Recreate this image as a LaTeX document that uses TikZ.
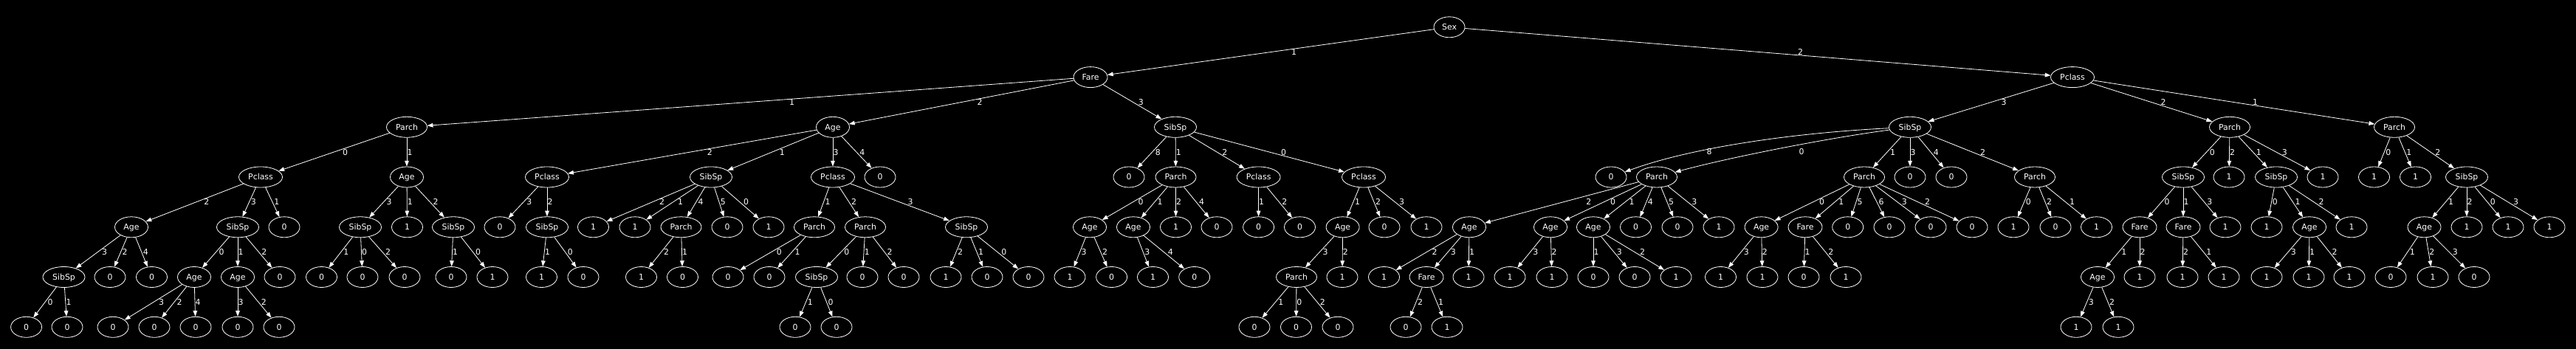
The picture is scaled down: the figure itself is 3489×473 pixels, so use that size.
\documentclass[tikz,border=0pt]{standalone}
\usepackage{fontspec}
\setmainfont{DejaVu Sans}
\usetikzlibrary{shapes.geometric,arrows.meta,calc}
\def\yA{36.8}\def\yB{104.6}\def\yC{172.3}\def\yD{240.0}\def\yE{307.8}\def\yF{375.5}\def\yG{443.3}
\tikzset{
  nBase/.style={ellipse, draw=white, line width=0.8pt, text=white, inner sep=0pt,
    minimum height=28pt, text height=7.9pt, text depth=0pt,
    font=\fontsize{10.9pt}{13pt}\selectfont},
  nLeaf/.style={nBase, minimum width=42pt},
  nSex/.style={nBase, minimum width=42pt},
  nSib/.style={nBase, minimum width=57pt},
  nPar/.style={nBase, minimum width=55pt},
  nPcl/.style={nBase, minimum width=59pt},
  nAge/.style={nBase, minimum width=45pt},
  nFare/.style={nBase, minimum width=46pt},
  edg/.style={draw=white, line width=0.8pt, -{Triangle[length=7.8pt,width=5.6pt]}},
  elab/.style={text=white, inner sep=0pt, text height=7.9pt, text depth=0pt,
    font=\fontsize{10.9pt}{13pt}\selectfont}
}
\newcommand\myE[4][0]{%
  \draw[edg] (#2) -- (#3);
  \path let \p1=(#2), \p2=(#3) in
    node[elab] at ({(\x1+\x2)/2+4pt+abs(\x2-\x1)/17+#1pt},{(\y1+\y2)/2}) {#4};}
\begin{document}
\begin{tikzpicture}[x=1pt,y=-1pt]
\fill[black] (0,0) rectangle (3489,473);
% ---------- nodes ----------
\node[nSex] (sex) at (1963,\yA) {Sex};
\node[nFare] (A) at (1477,\yB) {Fare};
\node[nPcl] (B) at (2807,\yB) {Pclass};
\node[nPar] (a1) at (551,\yC) {Parch};
\node[nAge] (a2) at (1128,\yC) {Age};
\node[nSib] (a3) at (1592,\yC) {SibSp};
% a1
\node[nPcl] (a1a) at (353,\yD) {Pclass};
\node[nAge] (a1b) at (551,\yD) {Age};
\node[nAge] (a1a1) at (178,\yE) {Age};
\node[nSib] (a1a2) at (322,\yE) {SibSp};
\node[nLeaf] (a1a3) at (385,\yE) {0};
\node[nSib] (a1a1a) at (86.5,\yF) {SibSp};
\node[nLeaf] (a1a1b) at (149,\yF) {0};
\node[nLeaf] (a1a1c) at (205.5,\yF) {0};
\node[nLeaf] (a1a1a1) at (35.6,\yG) {0};
\node[nLeaf] (a1a1a2) at (91,\yG) {0};
\node[nAge] (a1a2a) at (263,\yF) {Age};
\node[nAge] (a1a2b) at (322,\yF) {Age};
\node[nLeaf] (a1a2c) at (379,\yF) {0};
\node[nLeaf] (a1a2a1) at (153,\yG) {0};
\node[nLeaf] (a1a2a2) at (209,\yG) {0};
\node[nLeaf] (a1a2a3) at (265,\yG) {0};
\node[nLeaf] (a1a2b1) at (322,\yG) {0};
\node[nLeaf] (a1a2b2) at (378,\yG) {0};
\node[nSib] (a1b1) at (488,\yE) {SibSp};
\node[nLeaf] (a1b2) at (551.5,\yE) {1};
\node[nSib] (a1b3) at (614,\yE) {SibSp};
\node[nLeaf] (a1b1a) at (435.5,\yF) {0};
\node[nLeaf] (a1b1b) at (491,\yF) {0};
\node[nLeaf] (a1b1c) at (548,\yF) {0};
\node[nLeaf] (a1b3a) at (611,\yF) {0};
\node[nLeaf] (a1b3b) at (667,\yF) {1};
% a2
\node[nPcl] (a2a) at (741,\yD) {Pclass};
\node[nSib] (a2b) at (963,\yD) {SibSp};
\node[nPcl] (a2c) at (1128,\yD) {Pclass};
\node[nLeaf] (a2d) at (1192,\yD) {0};
\node[nLeaf] (a2a1) at (677,\yE) {0};
\node[nSib] (a2a2) at (741,\yE) {SibSp};
\node[nLeaf] (a2a2a) at (733.5,\yF) {1};
\node[nLeaf] (a2a2b) at (790,\yF) {0};
\node[nLeaf] (a2b1) at (803.5,\yE) {1};
\node[nLeaf] (a2b2) at (860,\yE) {1};
\node[nPar] (a2b3) at (922.5,\yE) {Parch};
\node[nLeaf] (a2b4) at (985,\yE) {0};
\node[nLeaf] (a2b5) at (1041,\yE) {1};
\node[nLeaf] (a2b3a) at (868.5,\yF) {1};
\node[nLeaf] (a2b3b) at (924.5,\yF) {0};
\node[nPar] (a2c1) at (1103,\yE) {Parch};
\node[nPar] (a2c2) at (1172,\yE) {Parch};
\node[nSib] (a2c3) at (1309,\yE) {SibSp};
\node[nLeaf] (a2c1a) at (986,\yF) {0};
\node[nLeaf] (a2c1b) at (1042,\yF) {0};
\node[nSib] (a2c2a) at (1106,\yF) {SibSp};
\node[nLeaf] (a2c2b) at (1168,\yF) {0};
\node[nLeaf] (a2c2c) at (1224,\yF) {0};
\node[nLeaf] (a2c2a1) at (1077,\yG) {0};
\node[nLeaf] (a2c2a2) at (1133,\yG) {0};
\node[nLeaf] (a2c3a) at (1281,\yF) {1};
\node[nLeaf] (a2c3b) at (1337,\yF) {0};
\node[nLeaf] (a2c3c) at (1393,\yF) {0};
% a3
\node[nLeaf] (a3a) at (1529,\yD) {0};
\node[nPar] (a3b) at (1592.5,\yD) {Parch};
\node[nPcl] (a3c) at (1704.6,\yD) {Pclass};
\node[nPcl] (a3d) at (1847,\yD) {Pclass};
\node[nAge] (a3b1) at (1476,\yE) {Age};
\node[nAge] (a3b2) at (1535,\yE) {Age};
\node[nLeaf] (a3b3) at (1592.5,\yE) {1};
\node[nLeaf] (a3b4) at (1648,\yE) {0};
\node[nLeaf] (a3b1a) at (1449,\yF) {1};
\node[nLeaf] (a3b1b) at (1505.6,\yF) {0};
\node[nLeaf] (a3b2a) at (1561.5,\yF) {1};
\node[nLeaf] (a3b2b) at (1617.7,\yF) {0};
\node[nLeaf] (a3c1) at (1704.6,\yE) {0};
\node[nLeaf] (a3c2) at (1760.5,\yE) {0};
\node[nAge] (a3d1) at (1818.6,\yE) {Age};
\node[nLeaf] (a3d2) at (1875,\yE) {0};
\node[nLeaf] (a3d3) at (1932,\yE) {1};
\node[nPar] (a3d1a) at (1756,\yF) {Parch};
\node[nLeaf] (a3d1b) at (1818,\yF) {1};
\node[nLeaf] (a3d1a1) at (1699,\yG) {0};
\node[nLeaf] (a3d1a2) at (1755.5,\yG) {0};
\node[nLeaf] (a3d1a3) at (1812,\yG) {0};
% B
\node[nSib] (b1) at (2587,\yC) {SibSp};
\node[nPar] (b2) at (3020,\yC) {Parch};
\node[nPar] (b3) at (3243,\yC) {Parch};
\node[nLeaf] (b1a) at (2182,\yD) {0};
\node[nPar] (b1b) at (2244,\yD) {Parch};
\node[nPar] (b1c) at (2525,\yD) {Parch};
\node[nLeaf] (b1d) at (2587,\yD) {0};
\node[nLeaf] (b1e) at (2643,\yD) {0};
\node[nPar] (b1f) at (2756,\yD) {Parch};
\node[nAge] (b1b1) at (1990,\yE) {Age};
\node[nAge] (b1b2) at (2100,\yE) {Age};
\node[nAge] (b1b3) at (2158,\yE) {Age};
\node[nLeaf] (b1b4) at (2215.5,\yE) {0};
\node[nLeaf] (b1b5) at (2272,\yE) {0};
\node[nLeaf] (b1b6) at (2328,\yE) {1};
\node[nLeaf] (b1b1a) at (1874.5,\yF) {1};
\node[nFare] (b1b1b) at (1932,\yF) {Fare};
\node[nLeaf] (b1b1c) at (1989,\yF) {1};
\node[nLeaf] (b1b1b1) at (1904,\yG) {0};
\node[nLeaf] (b1b1b2) at (1960,\yG) {1};
\node[nLeaf] (b1b2a) at (2045,\yF) {1};
\node[nLeaf] (b1b2b) at (2102,\yF) {1};
\node[nLeaf] (b1b3a) at (2158,\yF) {0};
\node[nLeaf] (b1b3b) at (2214,\yF) {0};
\node[nLeaf] (b1b3c) at (2270,\yF) {1};
\node[nAge] (b1c1) at (2385.6,\yE) {Age};
\node[nFare] (b1c2) at (2445,\yE) {Fare};
\node[nLeaf] (b1c3) at (2502.7,\yE) {0};
\node[nLeaf] (b1c4) at (2559,\yE) {0};
\node[nLeaf] (b1c5) at (2615,\yE) {0};
\node[nLeaf] (b1c6) at (2671,\yE) {0};
\node[nLeaf] (b1c1a) at (2330.5,\yF) {1};
\node[nLeaf] (b1c1b) at (2387,\yF) {1};
\node[nLeaf] (b1c2a) at (2443,\yF) {0};
\node[nLeaf] (b1c2b) at (2500,\yF) {1};
\node[nLeaf] (b1f1) at (2727,\yE) {1};
\node[nLeaf] (b1f2) at (2784,\yE) {0};
\node[nLeaf] (b1f3) at (2839.5,\yE) {1};
\node[nSib] (b2a) at (2957,\yD) {SibSp};
\node[nLeaf] (b2b) at (3019,\yD) {1};
\node[nSib] (b2c) at (3083,\yD) {SibSp};
\node[nLeaf] (b2d) at (3146,\yD) {1};
\node[nFare] (b2a1) at (2898,\yE) {Fare};
\node[nFare] (b2a2) at (2957,\yE) {Fare};
\node[nLeaf] (b2a3) at (3014,\yE) {1};
\node[nAge] (b2a1a) at (2841,\yF) {Age};
\node[nLeaf] (b2a1b) at (2898,\yF) {1};
\node[nLeaf] (b2a1a1) at (2812,\yG) {1};
\node[nLeaf] (b2a1a2) at (2869,\yG) {1};
\node[nLeaf] (b2a2a) at (2956,\yF) {1};
\node[nLeaf] (b2a2b) at (3012,\yF) {1};
\node[nLeaf] (b2c1) at (3070,\yE) {1};
\node[nAge] (b2c2) at (3128,\yE) {Age};
\node[nLeaf] (b2c3) at (3185,\yE) {1};
\node[nLeaf] (b2c2a) at (3070,\yF) {1};
\node[nLeaf] (b2c2b) at (3127,\yF) {1};
\node[nLeaf] (b2c2c) at (3182,\yF) {1};
\node[nLeaf] (b3a) at (3215.5,\yD) {1};
\node[nLeaf] (b3b) at (3271.5,\yD) {1};
\node[nSib] (b3c) at (3341,\yD) {SibSp};
\node[nAge] (b3c1) at (3283.5,\yE) {Age};
\node[nLeaf] (b3c2) at (3341,\yE) {1};
\node[nLeaf] (b3c3) at (3397,\yE) {1};
\node[nLeaf] (b3c4) at (3453,\yE) {1};
\node[nLeaf] (b3c1a) at (3238,\yF) {0};
\node[nLeaf] (b3c1b) at (3295,\yF) {1};
\node[nLeaf] (b3c1c) at (3351,\yF) {0};
% ---------- edges ----------
\myE{sex}{A}{1}
\myE{sex}{B}{2}
\myE{A}{a1}{1}
\myE{A}{a2}{2}
\myE{A}{a3}{3}
\myE{a1}{a1a}{0}
\myE{a1}{a1b}{1}
\myE{a1a}{a1a1}{2}
\myE{a1a}{a1a2}{3}
\myE{a1a}{a1a3}{1}
\myE{a1a1}{a1a1a}{3}
\myE{a1a1}{a1a1b}{2}
\myE{a1a1}{a1a1c}{4}
\myE{a1a1a}{a1a1a1}{0}
\myE{a1a1a}{a1a1a2}{1}
\myE{a1a2}{a1a2a}{0}
\myE{a1a2}{a1a2b}{1}
\myE{a1a2}{a1a2c}{2}
\myE{a1a2a}{a1a2a1}{3}
\myE{a1a2a}{a1a2a2}{2}
\myE{a1a2a}{a1a2a3}{4}
\myE{a1a2b}{a1a2b1}{3}
\myE{a1a2b}{a1a2b2}{2}
\myE{a1b}{a1b1}{3}
\myE{a1b}{a1b2}{1}
\myE{a1b}{a1b3}{2}
\myE{a1b1}{a1b1a}{1}
\myE{a1b1}{a1b1b}{0}
\myE{a1b1}{a1b1c}{2}
\myE{a1b3}{a1b3a}{1}
\myE{a1b3}{a1b3b}{0}
\myE{a2}{a2a}{2}
\myE{a2}{a2b}{1}
\myE{a2}{a2c}{3}
\myE{a2}{a2d}{4}
\myE{a2a}{a2a1}{3}
\myE{a2a}{a2a2}{2}
\myE{a2a2}{a2a2a}{1}
\myE{a2a2}{a2a2b}{0}
\myE{a2b}{a2b1}{2}
\myE{a2b}{a2b2}{1}
\myE{a2b}{a2b3}{4}
\myE{a2b}{a2b4}{5}
\myE{a2b}{a2b5}{0}
\myE{a2b3}{a2b3a}{2}
\myE{a2b3}{a2b3b}{1}
\myE{a2c}{a2c1}{1}
\myE{a2c}{a2c2}{2}
\myE{a2c}{a2c3}{3}
\myE{a2c1}{a2c1a}{0}
\myE{a2c1}{a2c1b}{1}
\myE{a2c2}{a2c2a}{0}
\myE{a2c2}{a2c2b}{1}
\myE{a2c2}{a2c2c}{2}
\myE{a2c2a}{a2c2a1}{1}
\myE{a2c2a}{a2c2a2}{0}
\myE{a2c3}{a2c3a}{2}
\myE{a2c3}{a2c3b}{1}
\myE{a2c3}{a2c3c}{0}
\myE{a3}{a3a}{8}
\myE{a3}{a3b}{1}
\myE{a3}{a3c}{2}
\myE{a3}{a3d}{0}
\myE{a3b}{a3b1}{0}
\myE{a3b}{a3b2}{1}
\myE{a3b}{a3b3}{2}
\myE{a3b}{a3b4}{4}
\myE{a3b1}{a3b1a}{3}
\myE{a3b1}{a3b1b}{2}
\myE{a3b2}{a3b2a}{3}
\myE{a3b2}{a3b2b}{4}
\myE{a3c}{a3c1}{1}
\myE{a3c}{a3c2}{2}
\myE{a3d}{a3d1}{1}
\myE{a3d}{a3d2}{2}
\myE{a3d}{a3d3}{3}
\myE{a3d1}{a3d1a}{3}
\myE{a3d1}{a3d1b}{2}
\myE{a3d1a}{a3d1a1}{1}
\myE{a3d1a}{a3d1a2}{0}
\myE{a3d1a}{a3d1a3}{2}
\myE{B}{b1}{3}
\myE{B}{b2}{2}
\myE{B}{b3}{1}
\draw[edg] (b1) .. controls (2430,180) and (2290,200) .. (b1a);
\node[elab] (l8) at (2315,206) {8};
\draw[edg] (b1) .. controls (2470,188) and (2340,214) .. (b1b);
\node[elab] (l0) at (2440,206) {0};
\myE{b1}{b1c}{1}
\myE{b1}{b1d}{3}
\myE{b1}{b1e}{4}
\myE{b1}{b1f}{2}
\myE[16]{b1b}{b1b1}{2}
\myE{b1b}{b1b2}{0}
\myE{b1b}{b1b3}{1}
\myE{b1b}{b1b4}{4}
\myE{b1b}{b1b5}{5}
\myE{b1b}{b1b6}{3}
\myE{b1b1}{b1b1a}{2}
\myE{b1b1}{b1b1b}{3}
\myE{b1b1}{b1b1c}{1}
\myE{b1b1b}{b1b1b1}{2}
\myE{b1b1b}{b1b1b2}{1}
\myE{b1b2}{b1b2a}{3}
\myE{b1b2}{b1b2b}{2}
\myE{b1b3}{b1b3a}{1}
\myE{b1b3}{b1b3b}{3}
\myE{b1b3}{b1b3c}{2}
\myE{b1c}{b1c1}{0}
\myE{b1c}{b1c2}{1}
\myE{b1c}{b1c3}{5}
\myE{b1c}{b1c4}{6}
\myE{b1c}{b1c5}{3}
\myE{b1c}{b1c6}{2}
\myE{b1c1}{b1c1a}{3}
\myE{b1c1}{b1c1b}{2}
\myE{b1c2}{b1c2a}{1}
\myE{b1c2}{b1c2b}{2}
\myE{b1f}{b1f1}{0}
\myE{b1f}{b1f2}{2}
\myE{b1f}{b1f3}{1}
\myE{b2}{b2a}{0}
\myE{b2}{b2b}{2}
\myE{b2}{b2c}{1}
\myE{b2}{b2d}{3}
\myE{b2a}{b2a1}{0}
\myE{b2a}{b2a2}{1}
\myE{b2a}{b2a3}{3}
\myE{b2a1}{b2a1a}{1}
\myE{b2a1}{b2a1b}{2}
\myE{b2a1a}{b2a1a1}{3}
\myE{b2a1a}{b2a1a2}{2}
\myE{b2a2}{b2a2a}{2}
\myE{b2a2}{b2a2b}{1}
\myE{b2c}{b2c1}{0}
\myE{b2c}{b2c2}{1}
\myE{b2c}{b2c3}{2}
\myE{b2c2}{b2c2a}{3}
\myE{b2c2}{b2c2b}{1}
\myE{b2c2}{b2c2c}{2}
\myE{b3}{b3a}{0}
\myE{b3}{b3b}{1}
\myE{b3}{b3c}{2}
\myE{b3c}{b3c1}{1}
\myE{b3c}{b3c2}{2}
\myE{b3c}{b3c3}{0}
\myE{b3c}{b3c4}{3}
\myE{b3c1}{b3c1a}{1}
\myE{b3c1}{b3c1b}{2}
\myE{b3c1}{b3c1c}{3}
\end{tikzpicture}
\end{document}
